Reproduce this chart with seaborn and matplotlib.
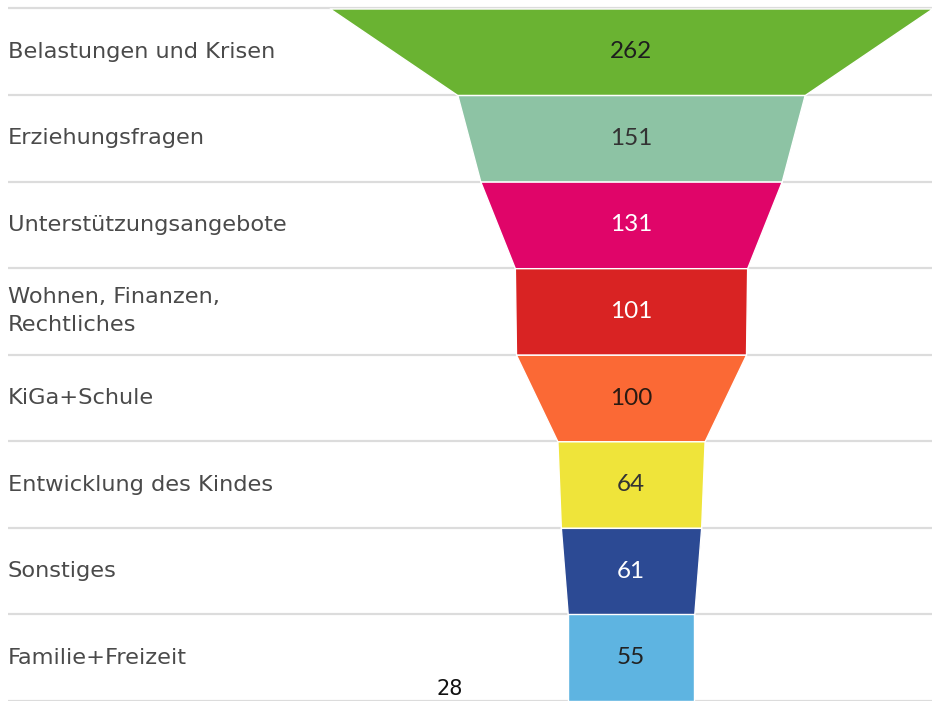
import matplotlib
matplotlib.use("Agg")
import matplotlib.pyplot as plt
import seaborn as sns
import numpy as np

categories = ["Belastungen und Krisen", "Erziehungsfragen", "Unterstützungsangebote",
              "Wohnen, Finanzen,\nRechtliches", "KiGa+Schule", "Entwicklung des Kindes",
              "Sonstiges", "Familie+Freizeit"]
values = [262, 151, 131, 101, 100, 64, 61, 55]
colors = ["#6ab332", "#8dc3a4", "#e00569", "#d92323", "#fb6935", "#efe43a", "#2c4a94", "#5eb4e1"]
value_text_colors = ["#1e1e1e", "#333333", "#ffffff", "#ffffff", "#2a1a12", "#333333", "#ffffff", "#222222"]
page_number = "28"

sns.set_theme(style="white")
plt.rcParams['font.family'] = ['DejaVu Sans']

fig = plt.figure(figsize=(9.32, 7.01), dpi=100)
ax = fig.add_axes([0, 0, 1, 1])

n = len(values)
xl = -631 / 2.3
xr = (932 - 631) / 2.3
label_x = xl + 8 / 2.3

# separator lines
ax.hlines(np.arange(n + 1), label_x, xr, color="#dcdcdc", linewidth=1.6, zorder=1)

# funnel: each segment narrows from its own value to the next one; last is rectangular
for i, v in enumerate(values):
    nxt = values[i + 1] if i + 1 < n else v
    ys = np.array([i, i + 1])
    half = np.array([v, nxt]) / 2.0
    ax.fill_betweenx(ys, -half, half, color=colors[i], edgecolor="white", linewidth=1.0, zorder=3)
    ax.text(0, i + 0.5, str(v), ha="center", va="center", fontsize=17.5,
            family=["Lato", "DejaVu Sans"], color=value_text_colors[i], zorder=5)
    ax.text(label_x, i + 0.5, categories[i], ha="left", va="center", fontsize=16.2,
            color="#4a4a4a", linespacing=1.5, zorder=5)

ax.text((450 - 631) / 2.3, (699 - 8.5) / 86.6, page_number, ha="center", va="bottom",
        fontsize=15, color="#111111", zorder=5)

ax.set_xlim(xl, xr)
ax.set_ylim(8.0, -8.5 / 86.6)
ax.axis("off")

fig.savefig("out.png", dpi=100)
